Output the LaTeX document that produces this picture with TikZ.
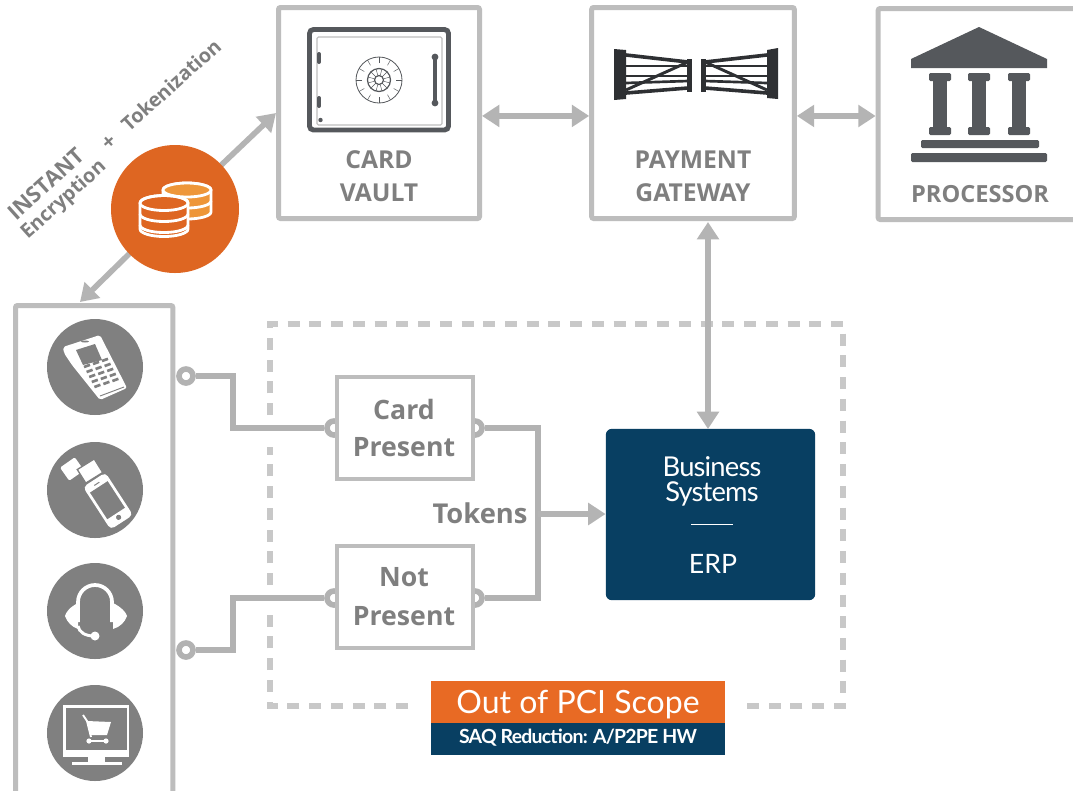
\documentclass[tikz,border=0pt]{standalone}
\usepackage{fontspec}
\setmainfont{Open Sans}
\newfontfamily\latofont{Lato}
\newfontfamily\latotight[LetterSpace=-3]{Lato}
\newfontfamily\latoboldtight[LetterSpace=-4]{Lato Bold}
\usetikzlibrary{arrows.meta,backgrounds}
\definecolor{linegray}{HTML}{BDBDBD}
\definecolor{arrowgray}{HTML}{B4B4B4}
\definecolor{wiregray}{HTML}{B2B2B2}
\definecolor{dashgray}{HTML}{C8C8C8}
\definecolor{labelgray}{HTML}{7F7F7F}
\definecolor{icondark}{HTML}{55585C}
\definecolor{gatedark}{HTML}{2E3033}
\definecolor{iconcircle}{HTML}{808080}
\definecolor{orangecirc}{HTML}{DE6622}
\definecolor{orangebar}{HTML}{E86A24}
\definecolor{coinfill}{HTML}{EE9639}
\definecolor{navy}{HTML}{083F62}
\newcommand{\fs}[1]{\fontsize{#1}{#1}\selectfont}
\tikzset{
  x=0.75pt,y=-0.75pt,
  bigbox/.style={draw=linegray,line width=3.75pt,fill=white,rectangle,inner sep=0pt,rounded corners=1.5pt},
  smallbox/.style={draw=linegray,line width=2.6pt,fill=white,rectangle,inner sep=0pt,minimum width=102pt,minimum height=76.5pt},
  boxlabel/.style={text=labelgray,font=\bfseries\fs{18.5},inner sep=0pt},
  midlabel/.style={text=labelgray,font=\bfseries\fs{20},inner sep=0pt},
  slantlabel/.style={text=labelgray,font=\bfseries\fs{14.8},inner sep=0pt,rotate=42},
  ring/.style={circle,draw=wiregray,line width=4.2pt,fill=white,minimum size=10.5pt,inner sep=0pt},
  wire/.style={draw=wiregray,line width=4.2pt},
  both/.style={draw=arrowgray,line width=4.4pt,{Triangle[length=13pt,width=16pt]}-{Triangle[length=13pt,width=16pt]}},
  onehead/.style={draw=arrowgray,line width=4.2pt,-{Triangle[length=13pt,width=16pt]}},
  scope/.style={draw=dashgray,line width=5.2pt,dash pattern=on 9pt off 7.3pt},
  iconcirc/.style={circle,fill=iconcircle,minimum size=72pt,inner sep=0pt},
  whitetext/.style={text=white,inner sep=0pt},
}
\begin{document}
\begin{tikzpicture}
\useasboundingbox (0,0) rectangle (1073,790);
\begin{pgfonlayer}{background}
\fill[white] (0,0) rectangle (1073,790);
\end{pgfonlayer}

% boxes
\node[bigbox,minimum width=150.75pt,minimum height=158.25pt] (vault) at (379,113) {};
\node[bigbox,minimum width=152pt,minimum height=158.25pt] (gateway) at (693,113) {};
\node[bigbox,minimum width=155pt,minimum height=158.25pt] (processor) at (981.5,114) {};
\node[bigbox,minimum width=118pt,minimum height=372pt,anchor=north west] (devices) at (13,303) {};

% rings
\node[ring] (r1) at (186,376) {};
\node[ring] (r2) at (186,650) {};
\node[ring] (r3) at (334,428) {};
\node[ring] (r4) at (334,598) {};
\node[ring] (r5) at (475,428) {};
\node[ring] (r6) at (475,598) {};
\coordinate (j1) at (233,400);
\coordinate (j2) at (233,620);
\coordinate (bus) at (538,514);

% small boxes
\node[smallbox] (present) at (405,428) {};
\node[smallbox] (notpresent) at (405,597) {};

% ERP
\node[rectangle,rounded corners=4.5pt,fill=navy,minimum width=157pt,minimum height=128.5pt,inner sep=0pt] (erp) at (710.5,514.5) {};
\node[whitetext,font=\latotight\fs{20.5},anchor=base] (biz1) at (712,476) {Business};
\node[whitetext,font=\latotight\fs{20.5},anchor=base] (biz2) at (712,501) {Systems};
\node[whitetext,font=\latofont\fs{20},anchor=base] (biz3) at (713,573) {ERP};
\draw[white,line width=.7pt] (691,524) -- (733,524);

% connectors
\begin{pgfonlayer}{background}
\draw[wire] (r1.east) -| (j1) |- (r3.west);
\draw[wire] (r2.east) -| (j2) |- (r4.west);
\draw[wire] (r5.east) -| (bus) |- (r6.east);
\end{pgfonlayer}
\draw[onehead] (bus) -- (erp.west |- bus);
\coordinate (vaultin) at ([yshift=-2.2pt]vault.east);
\coordinate (gwin) at ([yshift=-2.2pt]gateway.west);
\coordinate (gwout) at ([yshift=-2.2pt]gateway.east);
\coordinate (procin) at ([yshift=-1.5pt]processor.west);
\coordinate (gwdown) at (708,222);
\coordinate (erpup) at (708,429);
\draw[both] (vaultin) -- (gwin);
\draw[both] (gwout) -- (procin);

% dashed scope
\draw[scope] (408,706) -- (270,706) -- (270,613);
\draw[scope] (270,585) -- (270,447);
\draw[scope] (270,415) -- (270,324) -- (843,324) -- (843,706) -- (742,706);
\draw[both] (gwdown) -- (erpup);

% orange circle and its arrows
\coordinate (encup) at (276,113);
\coordinate (encdown) at (80,302);
\node[circle,fill=orangecirc,minimum size=96pt,inner sep=0pt] (orange) at (175,209) {};
\begin{pgfonlayer}{background}
\draw[draw=arrowgray,line width=4.2pt,-{Triangle[length=13pt,width=16pt]}] (orange.center) -- (encup);
\draw[draw=arrowgray,line width=4.2pt,-{Triangle[length=13pt,width=16pt]}] (orange.center) -- (encdown);
\end{pgfonlayer}
% coins
\begin{scope}[draw=white,line width=2.1pt]
\draw[fill=coinfill] (163,190) -- (163,212) arc[start angle=180,end angle=0,x radius=24,y radius=7] -- (211,190) arc[start angle=360,end angle=180,x radius=24,y radius=7];
\draw[fill=coinfill] (187,190) ellipse (24 and 7);
\draw (163,201) arc[start angle=180,end angle=0,x radius=24,y radius=7];
\draw[fill=orangecirc] (140,203) -- (140,229) arc[start angle=180,end angle=0,x radius=24,y radius=7.5] -- (188,203) arc[start angle=360,end angle=180,x radius=24,y radius=7.5];
\draw (164,203) ellipse (24 and 7.5);
\draw (140,214) arc[start angle=180,end angle=0,x radius=24,y radius=7.5];
\draw (140,225) arc[start angle=180,end angle=0,x radius=24,y radius=7.5];
\end{scope}

% rotated text
\node[slantlabel,font=\bfseries\fs{16.5}] (t1) at (46,184) {INSTANT};
\node[slantlabel] (t2) at (64,200) {Encryption};
\node[slantlabel,font=\bfseries\fs{16}] (t3) at (110,143) {+};
\node[slantlabel] (t4) at (171,85) {Tokenization};

% box labels
\node[boxlabel] (l1) at (379,160) {CARD};
\node[boxlabel] (l2) at (379,193) {VAULT};
\node[boxlabel] (l3) at (693,160) {PAYMENT};
\node[boxlabel] (l4) at (693,193) {GATEWAY};
\node[boxlabel,font=\bfseries\fs{17.7}] (l5) at (980,194) {PROCESSOR};
\node[midlabel] (m1) at (404,409) {Card};
\node[midlabel] (m2) at (404,447) {Present};
\node[midlabel] (m3) at (404,577) {Not};
\node[midlabel] (m4) at (404,616) {Present};
\node[midlabel,font=\bfseries\fs{20.5}] (m5) at (480,513) {Tokens};

% banner
\node[rectangle,fill=orangebar,minimum width=220.5pt,minimum height=31.5pt,inner sep=0pt] (ban1) at (578,702) {};
\node[rectangle,fill=navy,minimum width=220.5pt,minimum height=24pt,inner sep=0pt] (ban2) at (578,739) {};
\node[whitetext,font=\latofont\fs{24}] (bt1) at (578,705) {Out of PCI Scope};
\node[whitetext,font=\latoboldtight\fs{14.6}] (bt2) at (578,738) {SAQ Reduction: A/P2PE HW};

% safe icon
\draw[icondark,line width=3.7pt,rounded corners=3pt] (309.5,29.5) rectangle (448.5,130);
\draw[linegray,line width=.8pt,rounded corners=1pt] (317,37) rectangle (442,125);
\draw[icondark,line width=.6pt] (379,80) circle (23);
\draw[icondark,line width=.9pt] (379,80) circle (11.5);
\draw[icondark,line width=.9pt] (379,80) circle (4.5);
\foreach \a in {0,30,...,330}{
  \draw[icondark,line width=.35pt] (379,80) ++(\a:17) -- ++(\a:6);
  \draw[icondark,line width=.35pt] (379,80) ++(\a+15:4.5) -- ++(\a+15:7);
}
\draw[icondark,line width=3.5pt,line cap=round] (435,57) -- (435,103);
\fill[icondark] (435,57) circle (3.4);
\fill[icondark] (435,103) circle (3.4);
\draw[icondark,line width=3pt,line cap=round] (319,54) -- (319,62);
\draw[icondark,line width=3pt,line cap=round] (319,98) -- (319,106);
\fill[icondark] (320.5,120) circle (2.2);

% gate icon
\begin{scope}[gatedark]
\fill (614,49) -- (626,50) -- (626,99) -- (614,100) -- cycle;
\fill (687,59) -- (692,59) -- (692,92) -- (687,92) -- cycle;
\fill (767,50) -- (778,48) -- (778,99) -- (767,98) -- cycle;
\fill (701,59) -- (706,59) -- (706,92) -- (701,92) -- cycle;
\draw[line width=2.7pt] (626,55) -- (688,62);
\draw[line width=2pt] (626,66) -- (688,66);
\draw[line width=2pt] (626,76) -- (688,76);
\draw[line width=2pt] (626,83) -- (688,81);
\draw[line width=2.7pt] (626,93) -- (688,88);
\draw[line width=2.2pt] (626,90) -- (688,62);
\draw[line width=2.7pt] (767,55) -- (705,62);
\draw[line width=2pt] (767,66) -- (705,66);
\draw[line width=2pt] (767,76) -- (705,76);
\draw[line width=2pt] (767,83) -- (705,81);
\draw[line width=2.7pt] (767,93) -- (705,88);
\draw[line width=2.2pt] (767,90) -- (705,62);
\end{scope}

% bank icon
\begin{scope}[icondark]
\fill (979,27) -- (1047,59) -- (1047,68) -- (911,68) -- (911,59) -- cycle;
\foreach \cx in {940,979,1019}{
  \fill[rounded corners=1pt] (\cx-11,73) rectangle (\cx+11,81);
  \fill (\cx-7,80) rectangle (\cx+7,128);
  \fill[rounded corners=1pt] (\cx-11,127) rectangle (\cx+11,135);
}
\fill[rounded corners=1pt] (921,140) rectangle (1039,148);
\fill[rounded corners=1pt] (911,153) rectangle (1047,162);
\end{scope}

% device icons
\node[iconcirc] (c1) at (95,367) {};
\node[iconcirc] (c2) at (95,490) {};
\node[iconcirc] (c3) at (95,611) {};
\node[iconcirc] (c4) at (95,733) {};

% terminal
\fill[white,rounded corners=1.5pt] (63,347) -- (100,335) -- (127,388) -- (100,400) -- (72,365) -- (64,353) -- cycle;
\fill[iconcircle] (76,350) -- (95,344) -- (102,360) -- (83,365) -- cycle;
\fill[iconcircle] (85,341.5) ellipse (4 and 1);
\foreach \i in {0,1,2}{\foreach \j in {0,1,2,3,4}{
  \draw[iconcircle,line width=2pt] ({84+\i*9+\j*2.6},{367-\i*3+\j*5}) -- ++(6,-2.2);
}}
\draw[iconcircle,line width=.7pt] (100,396) -- (124,387);

% phone
\begin{scope}[shift={(72,469)},rotate=35]
\fill[white,rounded corners=1pt] (-9,-8) rectangle (9,8);
\end{scope}
\begin{scope}[shift={(90,471)},rotate=32]
\draw[iconcircle,fill=white,line width=1pt] (-10,-8) rectangle (10,8);
\end{scope}
\begin{scope}[shift={(108,501)},rotate=33]
\draw[white,fill=iconcircle,line width=2pt,rounded corners=2.5pt] (-12,-24) rectangle (12,24);
\fill[white] (-12,-24) rectangle (12,-17);
\fill[white] (-12,15) rectangle (12,24);
\fill[iconcircle] (0,19.5) circle (2.6);
\fill[iconcircle] (-3,-21) rectangle (3,-20);
\end{scope}

% headset
\draw[white,line width=2.8pt] (78,622) -- (78,602) arc[start angle=180,end angle=360,radius=17] -- (112,622);
\fill[white] (78,603) .. controls (70,607) and (66,612) .. (65,616) .. controls (67,622) and (72,627) .. (78,629) -- cycle;
\fill[white] (113,603) .. controls (121,607) and (126,612) .. (127,616) .. controls (125,622) and (120,627) .. (113,629) -- cycle;
\draw[white,line width=2.2pt] (78,626) .. controls (79,632) and (85,636) .. (94,636);
\fill[white] (95,636) circle (4.5);

% monitor
\fill[white] (63,705) rectangle (129,757);
\fill[iconcircle] (66,708) rectangle (127,750);
\fill[white] (88,757) rectangle (105,763);
\fill[white] (72,762) rectangle (122,765);
\draw[white,line width=1.4pt,line join=round] (83,715) -- (87,721) -- (91,737);
\fill[white] (87,721) -- (111,722) -- (107,735) -- (90,735) -- cycle;
\draw[white,line width=1pt] (89,741) -- (106,741);
\fill[white] (89,741) circle (2.6);
\fill[white] (106,741) circle (2.6);
\end{tikzpicture}
\end{document}
